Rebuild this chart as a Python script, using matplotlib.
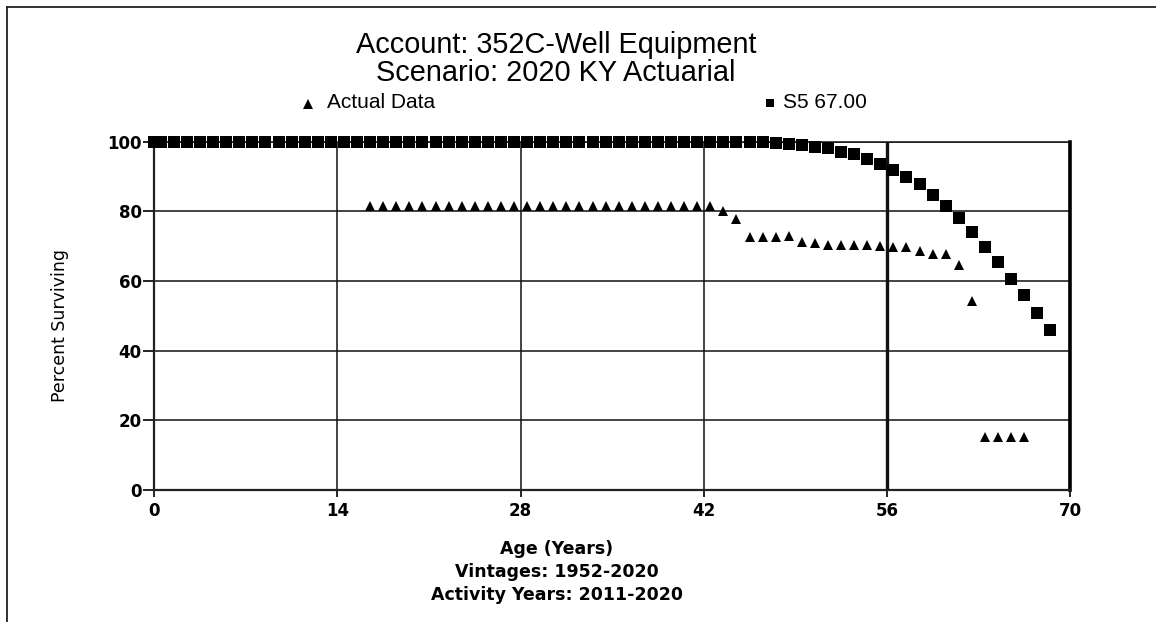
import matplotlib
matplotlib.use("Agg")
import matplotlib.pyplot as plt
from matplotlib.lines import Line2D
import numpy as np

# actual data (triangles), ages in years
actual_age = np.arange(16.5, 67.0, 1.0)
actual_pct = [
    81.5, 81.5, 81.5, 81.5, 81.5, 81.5, 81.5, 81.5, 81.5, 81.5,
    81.5, 81.5, 81.5, 81.5, 81.5, 81.5, 81.5, 81.5, 81.5, 81.5,
    81.5, 81.5, 81.5, 81.5, 81.5, 81.5, 81.5,
    80.1, 77.7, 72.6, 72.6, 72.6, 72.8, 71.3, 70.8, 70.3, 70.3,
    70.3, 70.3, 70.1, 69.7, 69.7, 68.7, 67.8, 67.8, 64.6, 54.3,
    15.2, 15.2, 15.2, 15.2,
]

# fitted S5 67.00 curve (squares)
curve_age = np.concatenate([[0.0], np.arange(0.5, 69.0, 1.0)])
curve_pct = [
    100, 100, 100, 100, 100, 100, 100, 100, 100, 100,
    100, 100, 100, 100, 100, 100, 100, 100, 100, 100,
    100, 100, 100, 100, 100, 100, 100, 100, 100, 100,
    100, 100, 100, 100, 100, 100, 100, 100, 100, 100,
    100, 100, 100, 100, 100, 100, 100, 100,
    99.7, 99.3, 99.0, 98.6, 98.2, 97.1, 96.4, 94.9, 93.7, 92.0,
    89.9, 87.8, 84.6, 81.4, 78.1, 74.1, 69.9, 65.5, 60.7, 56.0,
    50.7, 45.9,
]

x_ticks = [0, 14, 28, 42, 56, 70]
y_ticks = [0, 20, 40, 60, 80, 100]

W, H = 1156, 622
fig = plt.figure(figsize=(W / 100, H / 100), dpi=100)
ax = fig.add_axes([154.3 / W, 1 - 490 / H, (1070 - 154.3) / W, (490 - 141.7) / H])

ax.plot(actual_age, actual_pct, "^", ms=7.5, mew=0, color="black", clip_on=False, zorder=3)
ax.plot(curve_age, curve_pct, "s", ms=8, mew=0, color="black", clip_on=False, zorder=4)

ax.set_xlim(0, 70)
ax.set_ylim(0, 100)
ax.set_xticks(x_ticks)
ax.set_yticks(y_ticks)
ax.grid(True, color="#111111", lw=1.1)
for gl in ax.get_xgridlines()[4:]:
    gl.set_linewidth(2.4)
ax.set_axisbelow(True)

for side in ["left", "bottom"]:
    ax.spines[side].set_linewidth(1.6)
    ax.spines[side].set_color("#222222")
ax.spines["top"].set_linewidth(1.1)
ax.spines["top"].set_color("#111111")
ax.spines["right"].set_linewidth(2.6)
ax.spines["right"].set_color("black")

ax.tick_params(axis="y", direction="out", length=8, width=1.2, pad=1, labelsize=12)
ax.tick_params(axis="x", direction="out", length=5, width=1.2, pad=4, labelsize=12)
for lbl in ax.get_xticklabels() + ax.get_yticklabels():
    lbl.set_fontweight("bold")


def fx(px):
    return px / W


def fy(py):
    return 1 - py / H


title_font = dict(family="Liberation Sans", fontsize=20.8, ha="center", va="center")
fig.text(fx(556), fy(45), "Account: 352C-Well Equipment", **title_font)
fig.text(fx(556), fy(73), "Scenario: 2020 KY Actuarial", **title_font)

# legend row
fig.add_artist(Line2D([fx(308)], [fy(104)], marker="^", ms=7, mew=0, color="black",
                      transform=fig.transFigure))
fig.text(fx(327), fy(103), "Actual Data", family="Liberation Sans", fontsize=15,
         ha="left", va="center")
fig.add_artist(Line2D([fx(770)], [fy(103)], marker="s", ms=6, mew=0, color="black",
                      transform=fig.transFigure))
fig.text(fx(783), fy(103), "S5 67.00", family="Liberation Sans", fontsize=15,
         ha="left", va="center")

fig.text(fx(60), fy(326), "Percent Surviving", fontsize=12.5, rotation=90,
         ha="center", va="center")

xl_font = dict(fontsize=12.5, fontweight="bold", ha="center", va="center")
fig.text(fx(557), fy(549), "Age (Years)", **xl_font)
fig.text(fx(557), fy(572), "Vintages: 1952-2020", **xl_font)
fig.text(fx(557), fy(595), "Activity Years: 2011-2020", **xl_font)

# page border (top and left only)
fig.add_artist(Line2D([fx(6.5), 1], [fy(7), fy(7)], color="#222222", lw=1.3,
                      transform=fig.transFigure))
fig.add_artist(Line2D([fx(6.5), fx(6.5)], [fy(7), 0], color="#222222", lw=1.3,
                      transform=fig.transFigure))

fig.savefig("out.png", dpi=100)
